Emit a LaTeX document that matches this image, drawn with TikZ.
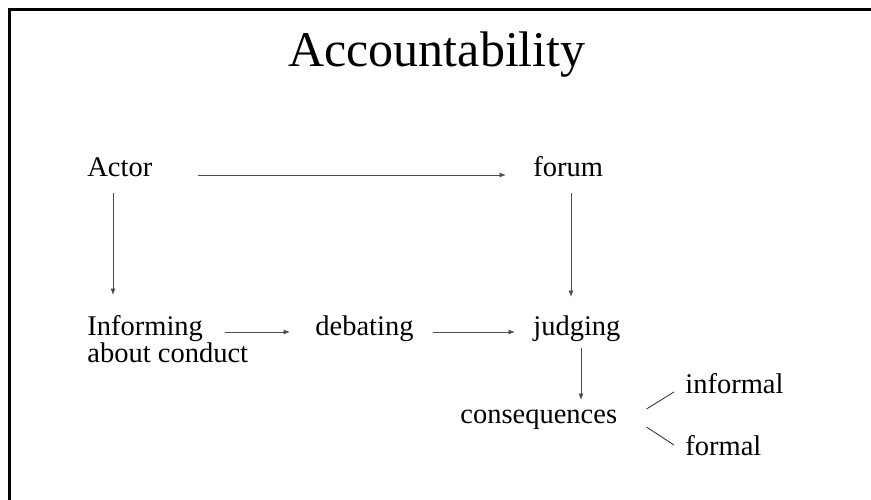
\documentclass[tikz,border=0pt]{standalone}
\usepackage{fontspec}
\setmainfont{Liberation Serif}
\usetikzlibrary{arrows.meta, positioning, calc}

\begin{document}
\begin{tikzpicture}[
    x=1pt, y=-1pt,
    >={Latex[length=6.5pt, width=5pt]},
    line width=0.8pt,
    word/.style={inner sep=0pt, anchor=base west, align=left,
                 font=\fontsize{28.5}{27}\selectfont},
    link/.style={->, draw=black!70},
    twig/.style={draw=black!85}
  ]
  \useasboundingbox (0,0) rectangle (871,500);
  % --- rahmen ---
  \draw[line width=2.5pt] (9.5,500) -- (9.5,9.5) -- (871,9.5);

  % --- titel ---
  \node[inner sep=0pt, anchor=base, font=\fontsize{50}{50}\selectfont] (title) at (437,67) {Accountability};

  % --- begriffe ---
  \node[word] (actor)    at (87,177)  {Actor};
  \node[word] (forum)    at (533,177) {forum};
  \node[word] (inform)   at (87,362)  {Informing\\about conduct};
  \node[word] (debate)   at (315,335) {debating};
  \node[word] (judge)    at (533,335) {judging};
  \node[word] (conseq)   at (460,423) {consequences};
  \node[word] (informal) at (685,393) {informal};
  \node[word] (formal)   at (685,455) {formal};

  % --- verbindungen ---
  \draw[link] ($(actor.base east)+(45,-2)$) -- ($(forum.base west)+(-27,-2)$);
  \draw[link] ($(actor.base west)+(26,16)$) -- ($(inform.base west)+(26,-67)$);
  \draw[link] ($(forum.base west)+(38,16)$) -- ($(judge.base west)+(38,-38)$);
  \draw[link] ($(inform.base west)+(138,-30)$) -- ($(debate.base west)+(-25,-3)$);
  \draw[link] ($(debate.base east)+(19,-3)$) -- ($(judge.base west)+(-18,-3)$);
  \draw[link] ($(judge.base west)+(48,13)$) -- ($(conseq.base west)+(121,-23)$);
  \draw[twig] ($(conseq.base east)+(29,-14)$) -- ($(informal.base west)+(-11,-1)$);
  \draw[twig] ($(conseq.base east)+(29,4)$) -- ($(formal.base west)+(-11,-10)$);
\end{tikzpicture}
\end{document}
